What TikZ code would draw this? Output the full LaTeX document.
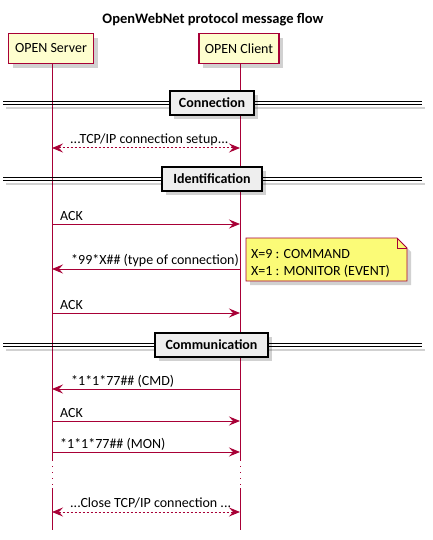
\documentclass[tikz,border=0pt]{standalone}
\usepackage{fontspec}
\setmainfont{Carlito}
\usetikzlibrary{arrows.meta}
\definecolor{pline}{HTML}{A80036}
\definecolor{pfill}{HTML}{FEFECE}
\definecolor{dfill}{HTML}{EEEEEE}
\definecolor{nfill}{HTML}{FBFB77}
\tikzset{
  txt/.style={font=\fontsize{14}{17}\selectfont, inner sep=0pt},
  participant/.style={draw=pline, fill=pfill, line width=1.2pt, minimum height=30pt, inner sep=0pt, font=\fontsize{14}{17}\selectfont},
  divbox/.style={draw=black, fill=dfill, line width=1.5pt, minimum height=24pt, inner sep=0pt, font=\bfseries\fontsize{14}{17}\selectfont},
  shadowbox/.style={fill=black, opacity=0.18},
  life/.style={draw=pline, line width=0.9pt},
  lifedot/.style={draw=pline, line width=0.9pt, dash pattern=on 1pt off 5pt},
  msg/.style={draw=pline, line width=1pt, -{Stealth[length=11pt,width=9pt,inset=4pt]}},
  dmsg/.style={draw=pline, line width=1pt, dash pattern=on 2pt off 2pt, {Stealth[length=11pt,width=9pt,inset=4pt]}-{Stealth[length=11pt,width=9pt,inset=4pt]}},
  divline/.style={draw=black, line width=1.1pt},
}
\begin{document}
\begin{tikzpicture}[x=1pt,y=-1pt]
\useasboundingbox (0,0) rectangle (432,540);
% title
\node[font=\bfseries\fontsize{14.5}{18}\selectfont, inner sep=0pt] (title) at (213,20) {OpenWebNet protocol message flow};
% shadows of participants
\fill[shadowbox] (13,38) rectangle (98,68);
\fill[shadowbox] (203,38) rectangle (283,68);
% participants
\node[participant, minimum width=85pt] (srv) at (51,48.5) {OPEN Server};
\node[participant, minimum width=80pt] (cli) at (239,48.5) {OPEN Client};
% lifelines
\coordinate (sA) at (52,63.5); \coordinate (sB) at (52,460); \coordinate (sC) at (52,488); \coordinate (sD) at (52,530);
\coordinate (cA) at (240,63.5); \coordinate (cB) at (240,460); \coordinate (cC) at (240,488); \coordinate (cD) at (240,530);
\draw[life] (sA) -- (sB); \draw[lifedot] (sB) -- (sC); \draw[life] (sC) -- (sD);
\draw[life] (cA) -- (cB); \draw[lifedot] (cB) -- (cC); \draw[life] (cC) -- (cD);
% dividers
\foreach \y/\t/\w/\cx/\nm in {103/Connection/84/212/dA, 179/Identification/100/212/dB, 345/Communication/113/211.5/dC}{
  \fill[shadowbox] (6,\y+4) rectangle (425,\y+6);
  \draw[divline] (3,\y-1.7) -- (422,\y-1.7);
  \draw[divline] (3,\y+1.7) -- (422,\y+1.7);
  \fill[shadowbox] (\cx-\w/2+4,\y-8) rectangle (\cx+\w/2+4,\y+16);
  \node[divbox, minimum width=\w pt] (\nm) at (\cx,\y) {\t};
}
% messages
\coordinate (s1) at (52,148); \coordinate (c1) at (240,148);
\draw[dmsg] (s1) -- (c1);
\node[txt, anchor=base west] (m1) at (70,144) {...TCP/IP connection setup...};

\coordinate (s2) at (52,224); \coordinate (c2) at (240,224);
\draw[msg] (s2) -- (c2);
\node[txt, anchor=base west] (m2) at (60,220) {ACK};

\coordinate (s3) at (52,269); \coordinate (c3) at (240,269);
\draw[msg] (c3) -- (s3);
\node[txt, anchor=base west] (m3) at (71,264.5) {*99*X\#\# (type of connection)};

\coordinate (s4) at (52,313); \coordinate (c4) at (240,313);
\draw[msg] (s4) -- (c4);
\node[txt, anchor=base west] (m4) at (60,309) {ACK};

\coordinate (s5) at (52,389); \coordinate (c5) at (240,389);
\draw[msg] (c5) -- (s5);
\node[txt, anchor=base west] (m5) at (71,385) {*1*1*77\#\# (CMD)};

\coordinate (s6) at (52,421); \coordinate (c6) at (240,421);
\draw[msg] (s6) -- (c6);
\node[txt, anchor=base west] (m6) at (60,417) {ACK};

\coordinate (s7) at (52,452); \coordinate (c7) at (240,452);
\draw[msg] (s7) -- (c7);
\node[txt, anchor=base west] (m7) at (60,448) {*1*1*77\#\# (MON)};

\coordinate (s8) at (52,512); \coordinate (c8) at (240,512);
\draw[dmsg] (s8) -- (c8);
\node[txt, anchor=base west] (m8) at (70,507) {...Close TCP/IP connection ...};

% note
\fill[shadowbox] (250,242) -- (401,242) -- (411,252) -- (411,285) -- (250,285) -- cycle;
\draw[draw=pline, fill=nfill, line width=0.9pt] (246,238) -- (397,238) -- (407,248) -- (407,281) -- (246,281) -- cycle;
\draw[draw=pline, line width=0.9pt] (397,238) -- (397,248) -- (407,248);
\node[txt, anchor=base west, align=left, font=\fontsize{14}{17}\selectfont] (note) at (251,275) {X=9 : COMMAND\\X=1 : MONITOR (EVENT)};
\end{tikzpicture}
\end{document}
